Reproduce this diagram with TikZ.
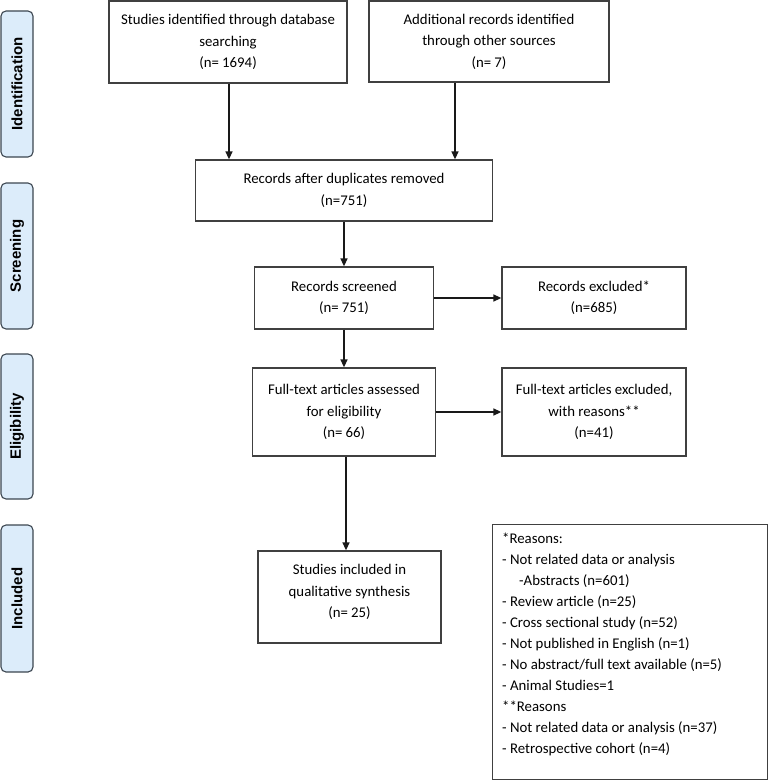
\documentclass[tikz,border=0pt]{standalone}
\usepackage{fontspec}
\setmainfont{Carlito}
\newfontfamily\tabfont{Liberation Sans}
\usetikzlibrary{arrows.meta}
\definecolor{tabfill}{HTML}{DCECFA}
\definecolor{tabline}{HTML}{3C4650}
\definecolor{boxline}{HTML}{404040}
\begin{document}
\begin{tikzpicture}[x=1pt,y=-1pt,
  every node/.style={font=\fontsize{14.8}{21.5}\selectfont},
  flowbox/.style={draw=boxline, line width=1.3pt, rectangle, align=center, inner sep=0pt},
  phasetab/.style={draw=tabline, fill=tabfill, line width=1.1pt, rounded corners=5pt, minimum width=32pt, inner sep=0pt},
  phasetext/.style={rotate=90, font=\tabfont\bfseries\fontsize{15}{17}\selectfont},
  arr/.style={line width=1.5pt, draw=black!90, -{Triangle[length=8pt,width=7pt]}}]
\useasboundingbox (0,0) rectangle (769,781);
% phase tabs
\node[phasetab, minimum height=146pt] (t1) at (17,84) {};
\node[phasetext] (t1l) at (t1.center) {Identification};
\node[phasetab, minimum height=146pt] (t2) at (17,256) {};
\node[phasetext] (t2l) at (t2.center) {Screening};
\node[phasetab, minimum height=145pt] (t3) at (17,426.5) {};
\node[phasetext] (t3l) at (t3.center) {Eligibility};
\node[phasetab, minimum height=147pt] (t4) at (17,598.5) {};
\node[phasetext] (t4l) at (t4.center) {Included};
% boxes
\node[flowbox, minimum width=238pt, minimum height=82pt] (b1) at (228,42) {Studies identified through database\\searching\\(n= 1694)};
\node[flowbox, minimum width=240pt, minimum height=81pt] (b2) at (489,41.5) {Additional records identified\\through other sources\\(n= 7)};
\node[flowbox, minimum width=297pt, minimum height=61pt] (b3) at (344,190.5) {Records after duplicates removed\\(n=751)};
\node[flowbox, minimum width=179pt, minimum height=62pt] (b4) at (344,298) {Records screened\\(n= 751)};
\node[flowbox, minimum width=184pt, minimum height=62pt] (b5) at (594,298) {Records excluded*\\(n=685)};
\node[flowbox, minimum width=183pt, minimum height=88pt] (b6) at (344,412) {Full-text articles assessed\\for eligibility\\(n= 66)};
\node[flowbox, minimum width=184pt, minimum height=88pt] (b7) at (594,412) {Full-text articles excluded,\\with reasons**\\(n=41)};
\node[flowbox, minimum width=183pt, minimum height=92pt] (b8) at (349.5,597) {};
\node[align=center, inner sep=0pt] (b8t) at (349.5,592) {Studies included in\\qualitative synthesis\\(n= 25)};
\node[flowbox, minimum width=275pt, minimum height=255pt, anchor=north west] (rs) at (492,524) {};
\node[align=left, inner sep=0pt, anchor=north west, font=\fontsize{14.8}{21}\selectfont] (rst) at (502,533) {*Reasons:\\
- Not related data or analysis\\
\hspace*{17pt}-Abstracts (n=601)\\
- Review article (n=25)\\
- Cross sectional study (n=52)\\
- Not published in English (n=1)\\
- No abstract/full text available (n=5)\\
- Animal Studies=1\\
**Reasons\\
- Not related data or analysis (n=37)\\
- Retrospective cohort (n=4)};
% arrows
\draw[arr] ([xshift=1pt]b1.south) -- ([xshift=1pt]b1.south |- b3.north);
\draw[arr] ([xshift=-34pt]b2.south) -- ([xshift=-34pt]b2.south |- b3.north);
\draw[arr] (b3.south) -- (b4.north);
\draw[arr] (b4.east) -- (b5.west);
\draw[arr] (b4.south) -- (b6.north);
\draw[arr] (b6.east) -- (b7.west);
\draw[arr] ([xshift=2pt]b6.south) -- ([xshift=2pt]b6.south |- b8.north);
\end{tikzpicture}
\end{document}
